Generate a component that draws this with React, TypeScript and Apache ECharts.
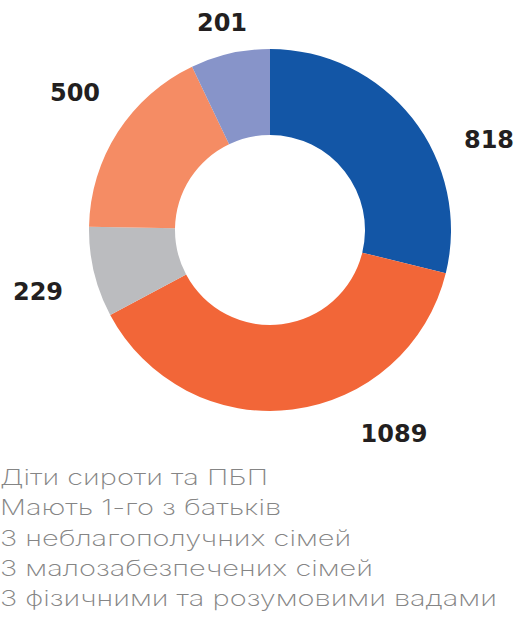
import React, { useEffect, useRef } from "react";
import * as echarts from "echarts";

const categories = [
  "Діти сироти та ПБП",
  "Мають 1-го з батьків",
  "З неблагополучних сімей",
  "З малозабезпечених сімей",
  "З фізичними та розумовими вадами",
];
const values = [818, 1089, 229, 500, 201];
const colors = ["#1356a6", "#f26638", "#bbbcbf", "#f58c64", "#8794c9"];
// label anchor points (page px) as placed in the reference
const labelAnchors = [
  [489, 140],
  [394, 434],
  [38, 292],
  [75, 93],
  [222, 23],
];

const LEG_FONT = "Inter";
const LEG_SIZE = 22;
const LEG_WEIGHT = 200;
const LEG_TARGET_W = 497;

export default function App() {
  const ref = useRef<HTMLDivElement>(null);
  useEffect(() => {
    document.body.style.margin = "0";
    const cv = document.createElement("canvas").getContext("2d")!;
    cv.font = `${LEG_WEIGHT} ${LEG_SIZE}px ${LEG_FONT}`;
    const maxW = Math.max(...categories.map((c) => cv.measureText(c).width));
    const sx = maxW > 0 ? LEG_TARGET_W / maxW : 1;

    const chart = echarts.init(ref.current!, null, { renderer: "svg" });
    chart.setOption({
      animation: false,
      color: colors,
      graphic: categories.map((c, i) => ({
        type: "text",
        x: 0,
        y: 477 + i * 30.3,
        scaleX: sx,
        silent: true,
        style: {
          text: c,
          fontFamily: LEG_FONT,
          fontSize: LEG_SIZE,
          fontWeight: LEG_WEIGHT,
          fill: "#858585",
          align: "left",
          verticalAlign: "middle",
        },
      })),
      series: [
        {
          type: "pie",
          center: [270, 230],
          radius: [95, 181],
          startAngle: 90,
          clockwise: true,
          emphasis: { disabled: true },
          itemStyle: { borderWidth: 0 },
          label: {
            show: true,
            position: "outside",
            formatter: "{c}",
            fontFamily: "DejaVu Sans",
            fontSize: 24,
            fontWeight: "bold",
            color: "#231f20",
            overflow: "none",
          },
          labelLine: { show: false },
          labelLayout: (p: any) => ({
            x: labelAnchors[p.dataIndex][0],
            y: labelAnchors[p.dataIndex][1],
            align: "center",
            verticalAlign: "middle",
          }),
          data: categories.map((name, i) => ({ name, value: values[i] })),
        },
      ],
    });
    return () => chart.dispose();
  }, []);
  return <div ref={ref} style={{ width: 525, height: 618 }} />;
}
